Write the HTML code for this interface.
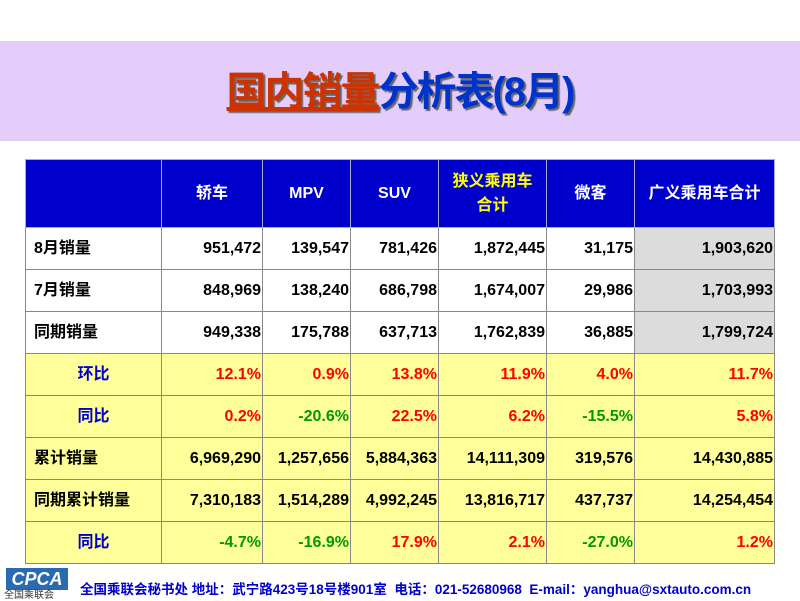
<!DOCTYPE html>
<html><head><meta charset="utf-8"><style>
body{margin:0;width:800px;height:600px;background:#fff;position:relative;overflow:hidden;font-family:"Liberation Sans","Noto Sans CJK SC",sans-serif;}
.band{position:absolute;left:0;top:41px;width:800px;height:100px;background:#e4cdfb;}
.title{position:absolute;left:0;top:70px;width:800px;text-align:center;font-size:40px;line-height:44px;font-weight:bold;color:#0033cc;text-shadow:2px 2px 1px #666;letter-spacing:-2px}
.title u{color:#cc3300;}
table{position:absolute;left:25px;top:159px;border-collapse:collapse;font-weight:bold;font-size:16px;line-height:18px;}
td{border:1px solid #888;padding:0 1px;height:41px;text-align:right;vertical-align:middle;}
tr.h td{background:#0000cc;color:#fff;text-align:center;height:67px;border-color:#aac;line-height:24px}
td.l{text-align:left;padding-left:8px;}
td.c{text-align:center;color:#0000cc;}
tr.y td{background:#ffff99;}
td.g{background:#dcdcdc;}
.r{color:#ff0000}.gr{color:#009900}
.foot{position:absolute;left:80px;top:582px;font-size:13.5px;font-weight:bold;color:#0000cc;white-space:nowrap;line-height:16px}
.logo{position:absolute;left:6px;top:568px;width:62px;height:22px;background:#2a6ab0;color:#fff;font-style:italic;font-weight:bold;font-size:18px;text-align:center;line-height:22px}
.logo2{position:absolute;left:4px;top:590px;font-size:10px;color:#333;line-height:11px}
</style></head><body>
<div class="band"></div>
<div class="title"><u>国内销量</u>分析表(8月)</div>
<table>
<colgroup><col style="width:136px"><col style="width:101px"><col style="width:88px"><col style="width:88px"><col style="width:108px"><col style="width:88px"><col style="width:140px"></colgroup>
<tr class="h"><td></td><td>轿车</td><td>MPV</td><td>SUV</td><td style="color:#ffff00">狭义乘用车<br>合计</td><td>微客</td><td>广义乘用车合计</td></tr>
<tr><td class="l">8月销量</td><td>951,472</td><td>139,547</td><td>781,426</td><td>1,872,445</td><td>31,175</td><td class="g">1,903,620</td></tr>
<tr><td class="l">7月销量</td><td>848,969</td><td>138,240</td><td>686,798</td><td>1,674,007</td><td>29,986</td><td class="g">1,703,993</td></tr>
<tr><td class="l">同期销量</td><td>949,338</td><td>175,788</td><td>637,713</td><td>1,762,839</td><td>36,885</td><td class="g">1,799,724</td></tr>
<tr class="y"><td class="c">环比</td><td class="r">12.1%</td><td class="r">0.9%</td><td class="r">13.8%</td><td class="r">11.9%</td><td class="r">4.0%</td><td class="r">11.7%</td></tr>
<tr class="y"><td class="c">同比</td><td class="r">0.2%</td><td class="gr">-20.6%</td><td class="r">22.5%</td><td class="r">6.2%</td><td class="gr">-15.5%</td><td class="r">5.8%</td></tr>
<tr class="y"><td class="l">累计销量</td><td>6,969,290</td><td>1,257,656</td><td>5,884,363</td><td>14,111,309</td><td>319,576</td><td>14,430,885</td></tr>
<tr class="y"><td class="l">同期累计销量</td><td>7,310,183</td><td>1,514,289</td><td>4,992,245</td><td>13,816,717</td><td>437,737</td><td>14,254,454</td></tr>
<tr class="y"><td class="c">同比</td><td class="gr">-4.7%</td><td class="gr">-16.9%</td><td class="r">17.9%</td><td class="r">2.1%</td><td class="gr">-27.0%</td><td class="r">1.2%</td></tr>
</table>
<div class="logo">CPCA</div>
<div class="logo2">全国乘联会</div>
<div class="foot">全国乘联会秘书处 地址：武宁路423号18号楼901室 &nbsp;电话：021-52680968 &nbsp;E-mail：yanghua@sxtauto.com.cn</div>
</body></html>
